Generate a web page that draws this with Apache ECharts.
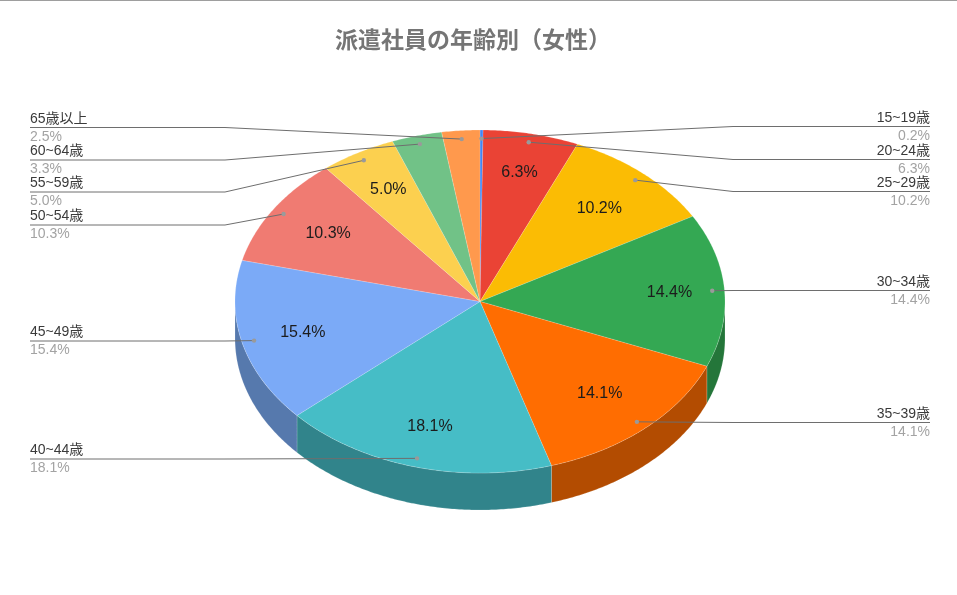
<!DOCTYPE html>
<html><head><meta charset="utf-8">
<style>html,body{margin:0;padding:0;background:#fff}#c{width:957px;height:595px}</style>
<script src="https://cdn.jsdelivr.net/npm/echarts@6/dist/echarts.min.js"></script>
</head><body><div id="c"></div>
<script>
const titleText = '派遣社員の年齢別（女性）';
const ages = ['15~19歳','20~24歳','25~29歳','30~34歳','35~39歳','40~44歳','45~49歳','50~54歳','55~59歳','60~64歳','65歳以上'];
const shares = [0.2,6.3,10.2,14.4,14.1,18.1,15.4,10.3,5.0,3.3,2.5];
const colors = ['#4285F4','#EA4335','#FBBC04','#34A853','#FF6D01','#46BDC6','#7BAAF7','#F07B72','#FCD04F','#71C287','#FF994D'];
const sideColors = ['#2E5DAB','#A42F25','#B08403','#24763A','#B34C01','#31848B','#5679AD','#A85650','#B09237','#4F885F','#B36B36'];
// layout of the callouts
const leaderRows = [126.5,159.5,191.5,290.5,422.5,459,341,225,192,160,127.5];
const labelRadius = [0.77,0.77,0.73,0.775,0.725,0.755,0.745,0.735,0.75,0.77,0.77];

const FONT = '"Liberation Sans","Noto Sans CJK JP",sans-serif';
const geo = {cx:480, cy:301.5, rx:245, ry:171.5, depth:37};
const total = shares.reduce((a,b)=>a+b,0);
const starts = []; shares.reduce((acc,v,i)=>{starts[i]=acc;return acc+v;},0);
const ang = v => v/total*Math.PI*2;
const pt = (t,r=1,dy=0) => [geo.cx+geo.rx*r*Math.sin(t), geo.cy-geo.ry*r*Math.cos(t)+dy];
function arc(a,b,dy=0){const n=Math.max(2,Math.ceil((b-a)/0.01));const o=[];for(let k=0;k<=n;k++)o.push(pt(a+(b-a)*k/n,1,dy));return o;}
const edge = 'rgba(255,255,255,0.28)';

function renderSide(params){
  const i=params.dataIndex;
  const a=Math.max(ang(starts[i]),Math.PI/2), b=Math.min(ang(starts[i]+shares[i]),Math.PI*1.5);
  if(b<=a) return null;
  const pts=arc(a,b,0).concat(arc(a,b,geo.depth).reverse());
  return {type:'polygon',shape:{points:pts},style:{fill:sideColors[i],stroke:edge,lineWidth:0.6}};
}
function renderTop(params){
  const i=params.dataIndex;
  const a=ang(starts[i]), b=ang(starts[i]+shares[i]);
  const pts=[[geo.cx,geo.cy]].concat(arc(a,b,0));
  return {type:'polygon',shape:{points:pts},style:{fill:colors[i],stroke:edge,lineWidth:0.6}};
}
function renderLabels(params){
  const i=params.dataIndex;
  const mid=ang(starts[i]+shares[i]/2), right=Math.sin(mid)>=0;
  const anchor=pt(mid,0.95), row=leaderRows[i];
  const elbowX=right?733:225, endX=right?930:30, align=right?'right':'left';
  const ch=[
    {type:'polyline',shape:{points:[anchor,[elbowX,row],[endX,row]]},style:{fill:null,stroke:'#6e6e6e',lineWidth:1}},
    {type:'circle',shape:{cx:anchor[0],cy:anchor[1],r:2.2},style:{fill:'#9a9a9a'}},
    {type:'text',style:{text:ages[i],x:endX,y:row-8.5,align,verticalAlign:'middle',font:'14px '+FONT,fill:'#3a3a3a'}},
    {type:'text',style:{text:shares[i].toFixed(1)+'%',x:endX,y:row+9.5,align,verticalAlign:'middle',font:'14px '+FONT,fill:'#a3a3a3'}}
  ];
  if(shares[i]>=5){
    const c=pt(mid,labelRadius[i]);
    ch.push({type:'text',style:{text:shares[i].toFixed(1)+'%',x:c[0],y:c[1],align:'center',verticalAlign:'middle',font:'16px '+FONT,fill:'#1c1c1c'}});
  }
  return {type:'group',children:ch};
}
const rows = ages.map((a,i)=>[i,shares[i]]);
const chart = echarts.init(document.getElementById('c'),null,{renderer:'canvas'});
chart.setOption({
  animation:false,
  backgroundColor:'#fff',
  title:{text:titleText,left:335,top:30,padding:0,textStyle:{fontFamily:FONT,fontSize:23,fontWeight:'bold',color:'#757575'}},
  graphic:[{type:'rect',shape:{x:0,y:0,width:957,height:1},style:{fill:'#9e9e9e'},silent:true}],
  series:[
    {type:'custom',coordinateSystem:'none',silent:true,z:1,data:rows,renderItem:renderSide},
    {type:'custom',coordinateSystem:'none',silent:true,z:2,data:rows,renderItem:renderTop},
    {type:'custom',coordinateSystem:'none',silent:true,z:3,data:rows,renderItem:renderLabels}
  ]
});
</script></body></html>
